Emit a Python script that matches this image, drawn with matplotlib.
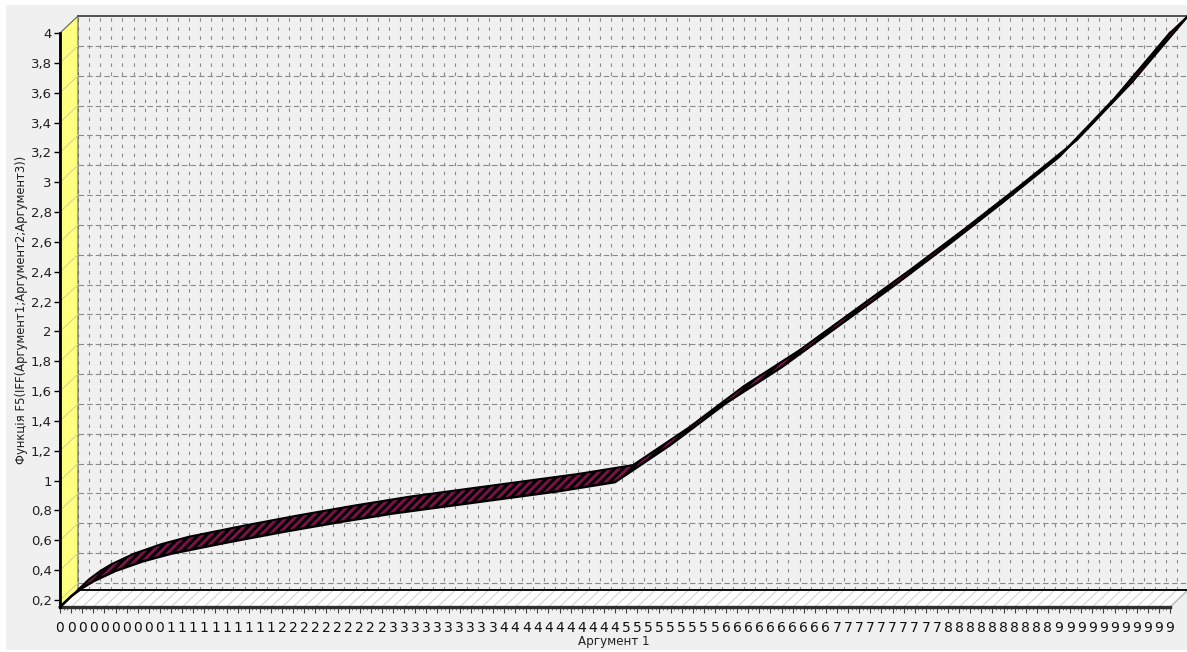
import numpy as np
import matplotlib
matplotlib.use("Agg")
import matplotlib.pyplot as plt
from matplotlib.patches import Polygon, Rectangle
from matplotlib.collections import PolyCollection
from matplotlib.transforms import ScaledTranslation

plt.rcParams['font.family'] = ['DejaVu Sans']
plt.rcParams['lines.scale_dashes'] = False
plt.rcParams['hatch.linewidth'] = 2.2

# ---- data -------------------------------------------------------------
arg1 = [0.0, 0.1, 0.2, 0.3, 0.5, 0.75, 1.0, 1.5, 2.0, 2.5, 3.0, 3.5, 4.0,
        4.5, 5.0, 5.5, 6.0, 6.5, 7.0, 7.5, 8.0, 8.5, 9.0, 9.5, 10.0]
f5 = [0.153, 0.225, 0.28, 0.325, 0.395, 0.46, 0.51, 0.585, 0.655, 0.72, 0.78,
      0.83, 0.88, 0.93, 0.99, 1.24, 1.52, 1.76, 2.03, 2.30, 2.58, 2.87,
      3.17, 3.56, 4.0]

y_ticks = [0.2, 0.4, 0.6, 0.8, 1.0, 1.2, 1.4, 1.6, 1.8, 2.0, 2.2, 2.4, 2.6,
           2.8, 3.0, 3.2, 3.4, 3.6, 3.8, 4.0]
y_labels = ["0,2", "0,4", "0,6", "0,8", "1", "1,2", "1,4", "1,6", "1,8", "2",
            "2,2", "2,4", "2,6", "2,8", "3", "3,2", "3,4", "3,6", "3,8", "4"]

x_labels = (["0"] * 10 + ["1"] * 10 + ["2"] * 10 + ["3"] * 10 + ["4"] * 11 +
            ["5"] * 9 + ["6"] * 10 + ["7"] * 10 + ["8"] * 10 + ["9"] * 11)

y_title = "Функція F5(IFF(Аргумент1;Аргумент2;Аргумент3))"
x_title = "Аргумент 1"

y_min, y_max = 0.153, 4.0
x_max = 10.0

# ---- figure -----------------------------------------------------------
W, H = 1187, 652
fig = plt.figure(figsize=(W / 100, H / 100), dpi=100, facecolor="white")
fig.patches.append(Rectangle((6 / W, 2 / H), (W - 6) / W, (H - 7) / H,
                             transform=fig.transFigure, facecolor="#f0f0f0",
                             edgecolor="none", zorder=-10))

# front plane of the 3-D box
ax = fig.add_axes([60 / W, (H - 607) / H, 1110 / W, 574 / H])
ax.set_xlim(0, x_max)
ax.set_ylim(y_min, y_max)
ax.patch.set_visible(False)
for s in ("top", "right", "bottom"):
    ax.spines[s].set_visible(False)
ax.spines["left"].set_linewidth(2.0)
ax.spines["left"].set_zorder(6)

# depth of the box, in pixels and in data units
DX, DY = 18, 17
back = ax.transData + ScaledTranslation(DX / 100, DY / 100, fig.dpi_scale_trans)
p0 = ax.transData.transform([(0.0, y_min)])[0]
q0 = ax.transData.inverted().transform([p0 + np.array([DX, DY])])[0]
ddx, ddy = q0[0], q0[1] - y_min

# back wall grid
grid_x = np.arange(len(x_labels)) / 10.0
for xv in grid_x:
    ax.plot([xv, xv], [y_min, y_max], transform=back, color="#8a8a8a",
            lw=0.8, dashes=(2.5, 4), clip_on=False, zorder=1)
for yv in y_ticks[:-1]:
    ax.plot([0, x_max], [yv, yv], transform=back, color="#8a8a8a",
            lw=0.8, dashes=(4, 2.2), clip_on=False, zorder=1)
ax.plot([0, x_max], [y_max, y_max], transform=back, color="#505050",
        lw=1.4, clip_on=False, zorder=2)

# side wall
side = Polygon([(0, y_min), (0, y_max), (ddx, y_max + ddy), (ddx, y_min + ddy)],
               closed=True, facecolor="#ffff80", edgecolor="#606060", lw=0.8,
               clip_on=False, zorder=2)
ax.add_patch(side)
for yv in y_ticks[:-1]:
    ax.plot([0, ddx], [yv, yv + ddy], color="#d6d68a", lw=0.8,
            clip_on=False, zorder=3)

# floor
floor = Polygon([(0, y_min), (x_max, y_min), (x_max + ddx, y_min + ddy),
                 (ddx, y_min + ddy)], closed=True, facecolor="white",
                edgecolor="#606060", lw=0.8, clip_on=False, zorder=2)
ax.add_patch(floor)
for xv in grid_x:
    ax.plot([xv, xv + ddx], [y_min, y_min + ddy], color="#d4d4d4", lw=0.8,
            clip_on=False, zorder=3)
ax.plot([ddx, x_max + ddx], [y_min + ddy, y_min + ddy], color="black",
        lw=1.3, clip_on=False, zorder=4)
ax.plot([0, x_max], [y_min, y_min], color="#303030", lw=2.4,
        clip_on=False, zorder=6)

# ribbon of the series
xs = np.array(arg1)
ys = np.array(f5)
quads = []
for i in range(len(xs) - 1):
    quads.append([(xs[i], ys[i]), (xs[i + 1], ys[i + 1]),
                  (xs[i + 1] + ddx, ys[i + 1] + ddy), (xs[i] + ddx, ys[i] + ddy)])
fill = PolyCollection(quads, facecolors="#80104a", edgecolors="#80104a",
                      linewidths=0.4, clip_on=False, zorder=7)
ax.add_collection(fill)
hatch = PolyCollection(quads, facecolors="none", edgecolors="black",
                       linewidths=0, hatch="////", clip_on=False, zorder=8)
ax.add_collection(hatch)
ax.plot(xs, ys, color="black", lw=1.8, clip_on=False, zorder=9,
        solid_joinstyle="round")
ax.plot(xs + ddx, ys + ddy, color="black", lw=1.5, clip_on=False, zorder=9,
        solid_joinstyle="round")
for k in (0, -1):
    ax.plot([xs[k], xs[k] + ddx], [ys[k], ys[k] + ddy], color="black",
            lw=1.5, clip_on=False, zorder=9)

# axes ticks and labels
ax.set_yticks(y_ticks, y_labels)
ax.tick_params(axis="y", direction="out", length=4, width=1, pad=2,
               labelsize=9.5, colors="black", labelcolor="#202020")
ax.set_xticks(grid_x, x_labels)
ax.set_xticks(np.arange(len(x_labels) * 3 - 2) / 30.0, minor=True)
ax.tick_params(axis="x", which="major", direction="out", length=4, width=0.8,
               pad=6, labelsize=10, colors="#404040", labelcolor="#101010")
ax.tick_params(axis="x", which="minor", direction="out", length=2, width=0.6,
               colors="#606060")

fig.text(22 / W, 1 - 310 / H, y_title, rotation=90, ha="center", va="center",
         fontsize=8.4, color="#202020")
fig.text(614 / W, 1 - 641 / H, x_title, ha="center", va="center",
         fontsize=8.6, color="#202020")

fig.savefig("out.png", dpi=100, facecolor=fig.get_facecolor())
